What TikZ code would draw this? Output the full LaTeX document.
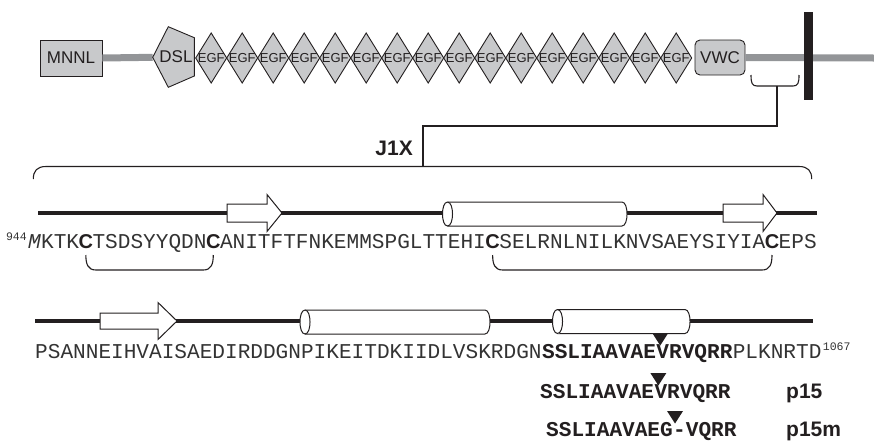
\documentclass[tikz,border=0pt]{standalone}
\usepackage{fontspec}
\setmainfont{Liberation Sans}
\newfontfamily\seqmono{Liberation Mono}
\usetikzlibrary{calc}
\definecolor{ink}{HTML}{231F20}
\definecolor{domfill}{HTML}{C8C9CB}
\definecolor{tmgray}{HTML}{939598}
\definecolor{seqcol}{HTML}{333333}
\newcommand{\helixcyl}[3]{%
  \filldraw[cyl] (#1,#3-12) -- (#2,#3-12) .. controls (#2+6.7,#3-12) and (#2+6.7,#3+12) .. (#2,#3+12)
     -- (#1,#3+12) .. controls (#1-6.7,#3+12) and (#1-6.7,#3-12) .. (#1,#3-12) -- cycle;
  \draw[cyl] (#1,#3-12) .. controls (#1+6.7,#3-12) and (#1+6.7,#3+12) .. (#1,#3+12);}
\newcommand{\strand}[6]{%
  \filldraw[cyl] (#1,#4-#5) -- (#2,#4-#5) -- (#2,#4-#6) -- (#3,#4) -- (#2,#4+#6) -- (#2,#4+#5) -- (#1,#4+#5) -- cycle;}
\newcommand{\cutmark}[1]{\fill[ink] ($(#1)+(-8,-12.5)$) -- ($(#1)+(8,-12.5)$) -- (#1) -- cycle;}
\begin{document}
\begin{tikzpicture}[x=1pt,y=-1pt,
  dom/.style={draw=ink, fill=domfill, line width=0.9pt},
  domlabel/.style={font=\fontsize{17}{17}\selectfont, text=ink, inner sep=0pt},
  egflabel/.style={font=\fontsize{13}{13}\selectfont, text=ink, inner sep=0pt},
  tm/.style={draw=tmgray, line width=7pt},
  thin/.style={draw=ink, line width=1.1pt},
  backbone/.style={draw=ink, line width=4pt},
  cyl/.style={draw=ink, fill=white, line width=1pt},
  seq/.style={font=\seqmono\fontsize{21.1}{21.1}\selectfont, text=seqcol, inner sep=0pt, anchor=base west},
  seqb/.style={font=\seqmono\bfseries\fontsize{21.1}{21.1}\selectfont, text=ink, inner sep=0pt, anchor=base west},
  seqc/.style={font=\bfseries\fontsize{20}{20}\selectfont, text=ink, inner sep=0pt, anchor=base west},
  supnum/.style={font=\seqmono\fontsize{11.5}{11.5}\selectfont, text=seqcol, inner sep=0pt},
  biglabel/.style={font=\bfseries\fontsize{21}{21}\selectfont, text=ink, inner sep=0pt}]
\useasboundingbox (0,0) rectangle (874,445);
% ---------- domain architecture ----------
\node[dom, minimum width=62pt, minimum height=36pt, inner sep=0pt] (mnnl) at (71,58) {};
\node[domlabel] (mnnlt) at (mnnl) {MNNL};
\coordinate (dslw) at (152.7,57.3);
\draw[tm] (mnnl.east) -- (dslw);
\filldraw[dom] (dslw) -- (168.3,26.7) -- (194.3,37.7) -- (194.3,76) -- (168.3,87.3) -- cycle;
\node[domlabel] (dsl) at (176,57) {DSL};
\foreach \i in {0,...,15}{
  \pgfmathsetmacro{\cx}{211.2+31*\i}
  \filldraw[dom] (\cx-15.5,58) -- (\cx,33) -- (\cx+15.5,58) -- (\cx,83) -- cycle;
  \node[egflabel] (egf\i) at (\cx,58) {EGF};
}
\node[dom, rounded corners=5pt, minimum width=50pt, minimum height=35pt, inner sep=0pt] (vwc) at (720,57.5) {};
\node[domlabel] (vwct) at (vwc) {VWC};
\coordinate (tmend) at (874,58);
\draw[tm] (vwc.east) -- (tmend);
\node[fill=ink, minimum width=9pt, minimum height=88pt, inner sep=0pt] (tmbar) at (808.7,56) {};
% small bracket and leader to J1X brace
\draw[thin] (751,75) .. controls (751,83) and (752,86) .. (757,86) -- (793,86) .. controls (798,86) and (799,83) .. (799,75);
\coordinate (brk) at (777,86);
\coordinate (jtop) at (423,166.5);
\draw[thin] (brk) -- (777,126) -| (jtop);
\node[biglabel, anchor=east] (j1x) at (413,148) {J1X};
% big brace
\draw[thin] (33.3,179) .. controls (33.3,171) and (37,166.5) .. (46,166.5) -- (799,166.5) .. controls (808,166.5) and (811.7,171) .. (811.7,179);
% ---------- row 1 ----------
\draw[backbone] (38,213) -- (817,213);
\strand{227}{267}{282}{213}{9}{18.5}
\helixcyl{447.5}{622}{214}
\strand{723}{763}{777}{213}{9}{18.5}
\node[seq] (r1a) at (28,248) {\textit{M}KTK};
\node[supnum, anchor=base east] (n944) at ($(r1a.base west)+(-1,-8)$) {944};
\node[seqc] (c1) at (r1a.base east) {\makebox[12.66pt]{C}};
\node[seq] (r1b) at (c1.base east) {TSDSYYQDN};
\node[seqc] (c2) at (r1b.base east) {\makebox[12.66pt]{C}};
\node[seq] (r1c) at (c2.base east) {ANITFTFNKEMMSPGLTTEHI};
\node[seqc] (c3) at (r1c.base east) {\makebox[12.66pt]{C}};
\node[seq] (r1d) at (c3.base east) {SELRNLNILKNVSAEYSIYIA};
\node[seqc] (c4) at (r1d.base east) {\makebox[12.66pt]{C}};
\node[seq] (r1e) at (c4.base east) {EPS};
% disulfide brackets
\draw[thin] ($(c1.base)+(0,7)$) .. controls ($(c1.base)+(0,16)$) and ($(c1.base)+(2,22)$) .. ($(c1.base)+(10,22)$) -- ($(c2.base)+(-10,22)$) .. controls ($(c2.base)+(-2,22)$) and ($(c2.base)+(0,16)$) .. ($(c2.base)+(0,7)$);
\draw[thin] ($(c3.base)+(0,7)$) .. controls ($(c3.base)+(0,16)$) and ($(c3.base)+(2,22)$) .. ($(c3.base)+(10,22)$) -- ($(c4.base)+(-10,22)$) .. controls ($(c4.base)+(-2,22)$) and ($(c4.base)+(0,16)$) .. ($(c4.base)+(0,7)$);
% ---------- row 2 ----------
\draw[backbone] (35,321) -- (813,321);
\strand{100}{158}{177}{321}{8}{18.5}
\helixcyl{305}{485}{322}
\helixcyl{557.5}{685}{321.5}
\node[seq] (r2a) at (35,358) {PSANNEIHVAISAEDIRDDGNPIKEITDKIIDLVSKRDGN};
\node[seqb] (r2b) at (r2a.base east) {SSLIAAVAE};
\node[seqb] (r2c) at (r2b.base east) {VRVQRR};
\node[seq] (r2d) at (r2c.base east) {PLKNRTD};
\node[supnum, anchor=base west] (n1067) at ($(r2d.base east)+(1,-8)$) {1067};
\coordinate (cut0) at ($(r2b.base east)+(4,-12.5)$);
\cutmark{cut0}
% ---------- p15 ----------
\node[seqb] (p15a) at (540,398) {SSLIAAVAE};
\node[seqb] (p15b) at (p15a.base east) {VRVQRR};
\node[biglabel, anchor=base west] (p15) at (786,398) {p15};
\coordinate (cut1) at ($(p15a.base east)+(4,-12.5)$);
\cutmark{cut1}
% ---------- p15m ----------
\node[seqb] (p15ma) at (546,436) {SSLIAAVAEG};
\node[seqb] (p15mb) at (p15ma.base east) {-VQRR};
\node[biglabel, anchor=base west] (p15m) at (786,436) {p15m};
\coordinate (cut2) at ($(p15ma.base east)+(2,-12.5)$);
\cutmark{cut2}
\end{tikzpicture}
\end{document}
